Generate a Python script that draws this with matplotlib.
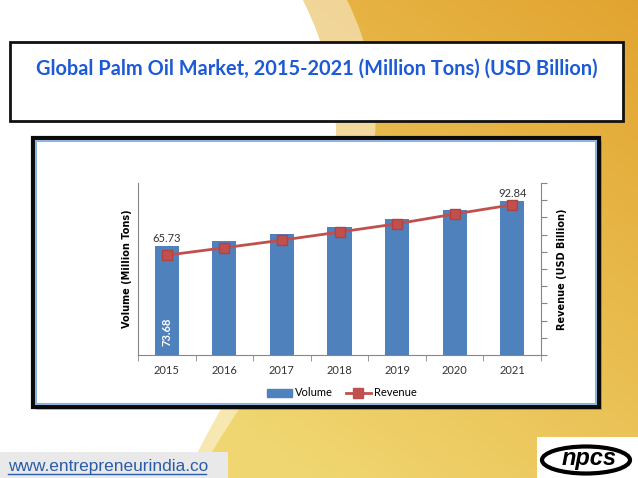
import numpy as np
import matplotlib
matplotlib.use("Agg")
import matplotlib.pyplot as plt
from matplotlib.path import Path
from matplotlib.patches import PathPatch, Rectangle, Ellipse
from matplotlib.lines import Line2D

# --- data -----------------------------------------------------------------
years = ["2015", "2016", "2017", "2018", "2019", "2020", "2021"]
volume = [65.73, 68.8, 73.0, 77.5, 82.1, 87.5, 92.84]       # million tons
revenue = [73.68, 79.2, 84.8, 90.8, 96.9, 104.1, 110.9]     # USD billion
vol_max = 104
rev_max = 127
title = "Global Palm Oil Market, 2015-2021 (Million Tons) (USD Billion)"

W, H = 638, 478
fig = plt.figure(figsize=(W / 100, H / 100), dpi=100)
fig.patch.set_facecolor("white")

# --- slide background (pixel coords) --------------------------------------
bg = fig.add_axes([0, 0, 1, 1])
bg.set_xlim(0, W)
bg.set_ylim(H, 0)
bg.axis("off")

xx, yy = np.meshgrid(np.linspace(0, 1, W), np.linspace(0, 1, H))
s = np.clip(0.6 * xx + 0.6 * (1 - yy) - 0.3, 0, 1)[..., None]
yellow = np.array([240, 214, 112]) / 255
orange = np.array([224, 158, 40]) / 255
grad = yellow * (1 - s) + orange * s

edge1 = [(303, 0), (403, 200), (250, 328), (186, 478)]
edge2 = [(347, 0), (445, 200), (266, 340), (198, 478)]
gold_path = Path(edge1 + [(W, H), (W, 0), (303, 0)],
                 [Path.MOVETO, Path.CURVE4, Path.CURVE4, Path.CURVE4,
                  Path.LINETO, Path.LINETO, Path.CLOSEPOLY])
gold = PathPatch(gold_path, facecolor="none", edgecolor="none")
bg.add_patch(gold)
im = bg.imshow(grad, extent=(0, W, H, 0), aspect="auto", zorder=0)
im.set_clip_path(gold)

band_path = Path(edge1 + edge2[::-1] + [(303, 0)],
                 [Path.MOVETO, Path.CURVE4, Path.CURVE4, Path.CURVE4,
                  Path.LINETO, Path.CURVE4, Path.CURVE4, Path.CURVE4,
                  Path.CLOSEPOLY])
bg.add_patch(PathPatch(band_path, facecolor="white", edgecolor="none",
                       alpha=0.45, zorder=1))

# title box
bg.add_patch(Rectangle((10, 42), 613, 79, facecolor="white",
                       edgecolor="#111111", lw=2, zorder=2))
bg.text(317, 69, title, ha="center", va="center", color="#1d5ad6",
        fontsize=14.4, fontweight="bold", family="Lato", zorder=3)

# chart frame
bg.add_patch(Rectangle((36, 141), 566, 269, facecolor="#555555",
                       edgecolor="none", alpha=0.35, zorder=2))
bg.add_patch(Rectangle((33, 138), 566, 269, facecolor="white",
                       edgecolor="#0a0a0a", lw=3, zorder=2))
bg.add_patch(Rectangle((36, 141), 560, 263, facecolor="none",
                       edgecolor="#8fb2de", lw=1.5, zorder=2))

# footer
bg.add_patch(Rectangle((0, 452), 228, 26, facecolor="#e9e9e9",
                       edgecolor="none", zorder=2))
bg.text(8, 466, "www.entrepreneurindia.co", ha="left", va="center",
        color="#2a5ca8", fontsize=12.4, family="Liberation Sans", zorder=3)
bg.plot([8, 206], [474, 474], color="#2a5ca8", lw=1, zorder=3)

# logo
bg.add_patch(Rectangle((537, 437), 101, 41, facecolor="white",
                       edgecolor="none", zorder=2))
bg.add_patch(Ellipse((586, 460), 88, 27, facecolor="none",
                     edgecolor="black", lw=3, zorder=3))
bg.text(589, 459, "npcs", ha="center", va="center", fontsize=17,
        fontweight="bold", style="italic", family="Liberation Sans",
        color="black", zorder=4)

# --- chart ----------------------------------------------------------------
left, right, top, base = 138, 541, 183, 355
ax = fig.add_axes([left / W, (H - base) / H, (right - left) / W, (base - top) / H])
ax.patch.set_alpha(0)
x = np.arange(len(years))
ax.bar(x, volume, width=0.42, color="#4f81bd", zorder=2)
ax.set_xlim(-0.5, len(years) - 0.5)
ax.set_ylim(0, vol_max)
ax.set_xticks(x)
ax.set_xticklabels(years, fontsize=8, color="#333333", family="Lato")
ax.set_xticks(np.arange(-0.5, len(years)), minor=True)
ax.tick_params(axis="x", which="major", length=0, pad=7)
ax.tick_params(axis="x", which="minor", length=4, color="#868686", direction="out")
ax.set_yticks([])
for side in ("top", "right"):
    ax.spines[side].set_visible(False)
for side in ("left", "bottom"):
    ax.spines[side].set_color("#868686")
ax.set_ylabel("Volume (Million Tons)", fontsize=7, fontweight="bold",
              family="DejaVu Sans", labelpad=4)

ax.text(x[0], volume[0] + 1.5, f"{volume[0]:.2f}", ha="center", va="bottom",
        fontsize=8, color="#333333", family="Lato")
ax.text(x[-1], volume[-1] + 1.5, f"{volume[-1]:.2f}", ha="center", va="bottom",
        fontsize=8, color="#333333", family="Lato")
ax.text(x[0], 14, f"{revenue[0]:.2f}", ha="center", va="center", rotation=90,
        fontsize=8, color="white", fontweight="bold", family="Lato")

ax2 = ax.twinx()
ax2.plot(x, revenue, color="#c0504d", lw=2, marker="s", markersize=7,
         markerfacecolor="#c0504d", markeredgecolor="#b04340", zorder=3)
ax2.set_ylim(0, rev_max)
ax2.set_yticks(np.linspace(0, rev_max, 11))
ax2.set_yticklabels([])
ax2.tick_params(axis="y", length=4, color="#868686", direction="out")
for side in ("top", "left", "bottom"):
    ax2.spines[side].set_visible(False)
ax2.spines["right"].set_color("#868686")
ax2.set_ylabel("Revenue (USD Billion)", fontsize=7, fontweight="bold",
               family="DejaVu Sans", labelpad=4)

handles = [Rectangle((0, 0), 1, 1, color="#4f81bd"),
           Line2D([], [], color="#c0504d", lw=2, marker="s", markersize=7)]
fig.legend(handles, ["Volume", "Revenue"], loc="center",
           bbox_to_anchor=(342 / W, (H - 393) / H), ncol=2, frameon=False,
           handlelength=2.2, handleheight=0.7, columnspacing=1.2,
           handletextpad=0.3, prop={"family": "Lato", "size": 8})

fig.savefig("out.png", dpi=100)
